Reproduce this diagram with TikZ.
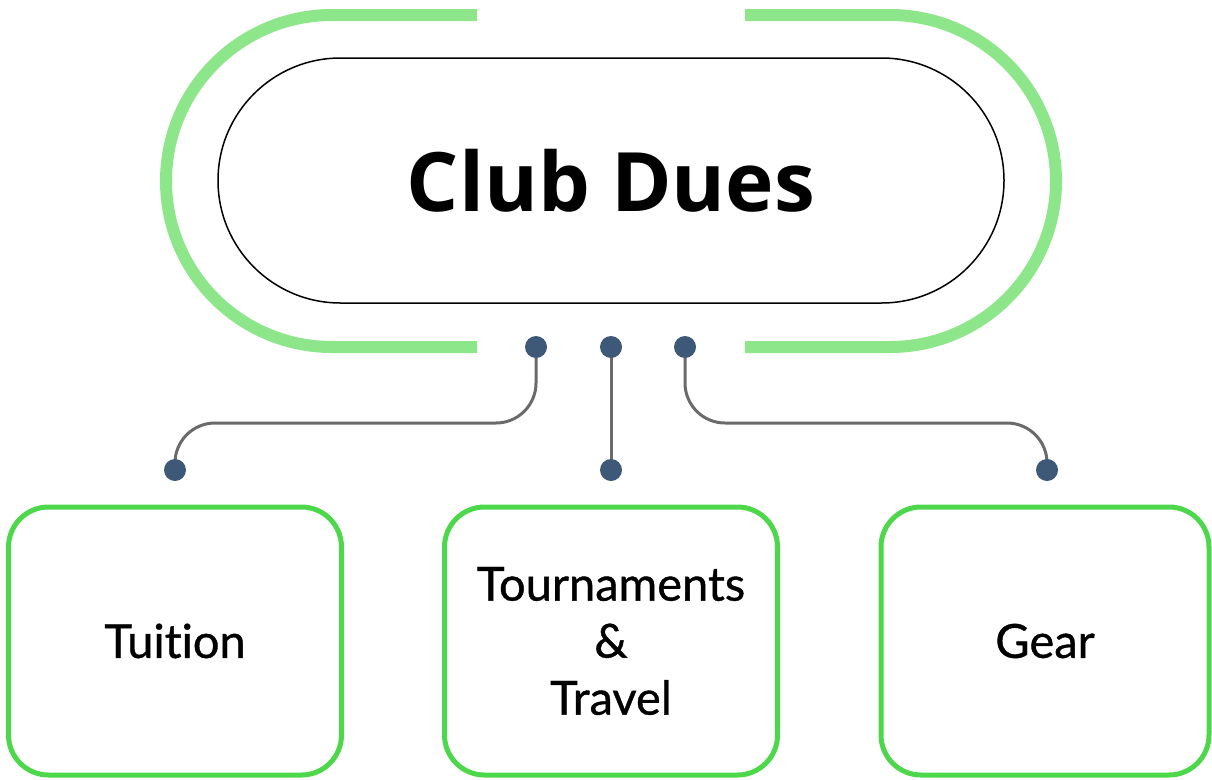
\documentclass[tikz,border=0pt]{standalone}
\usepackage{fontspec}
\newfontfamily\titlefont{Open Sans}
\newfontfamily\boxfont{Lato}[Ligatures=NoCommon,FakeBold=0.8]
\usetikzlibrary{calc}
\definecolor{ringgreen}{HTML}{8DE68A}
\definecolor{boxgreen}{HTML}{4CD84A}
\definecolor{dotblue}{HTML}{3E5877}
\definecolor{conngray}{HTML}{6A6A6A}
\begin{document}
\begin{tikzpicture}[x=1pt,y=1pt,
  ring/.style={draw=ringgreen,line width=12pt},
  pill/.style={draw=black,line width=1.5pt,rounded corners=122.5pt,minimum width=786pt,minimum height=245pt,inner sep=0pt},
  leaf/.style={draw=boxgreen,line width=5pt,rounded corners=40pt,minimum width=333pt,minimum height=268pt,inner sep=0pt,align=center,font=\boxfont\fontsize{47}{57}\selectfont},
  dot/.style={circle,fill=dotblue,inner sep=0pt,minimum size=22pt},
  conn/.style={draw=conngray,line width=3pt,rounded corners=40pt}]
\useasboundingbox (0,0) rectangle (1212,-779);
% outer ring
\draw[ring] (477,-15) -- (332,-15) arc[start angle=90,end angle=270,radius=166] -- (477,-347);
\draw[ring] (745,-15) -- (890,-15) arc[start angle=90,end angle=-90,radius=166] -- (745,-347);
% main node
\node[pill,font=\titlefont\bfseries\fontsize{82}{96}\selectfont] (main) at (611,-180.5) {Club Dues};
% leaves
\node[leaf] (tuition) at (175,-641) {Tuition};
\node[leaf] (travel) at (611,-641) {Tournaments\\\&\\Travel};
\node[leaf,minimum width=328pt] (gear) at (1045,-641) {Gear};
% dots
\coordinate (t1) at (536,-347);
\coordinate (t2) at (611,-347);
\coordinate (t3) at (685,-347);
\coordinate (b1) at (175,-470);
\coordinate (b2) at (611,-470);
\coordinate (b3) at (1047,-470);
\coordinate (m1) at (355,-423);
\coordinate (m3) at (866,-423);
\draw[conn] (t1) |- (m1) -| (b1);
\draw[conn] (t2) -- (b2);
\draw[conn] (t3) |- (m3) -| (b3);
\foreach \p in {t1,t2,t3,b1,b2,b3} \node[dot] (d\p) at (\p) {};
\end{tikzpicture}
\end{document}
